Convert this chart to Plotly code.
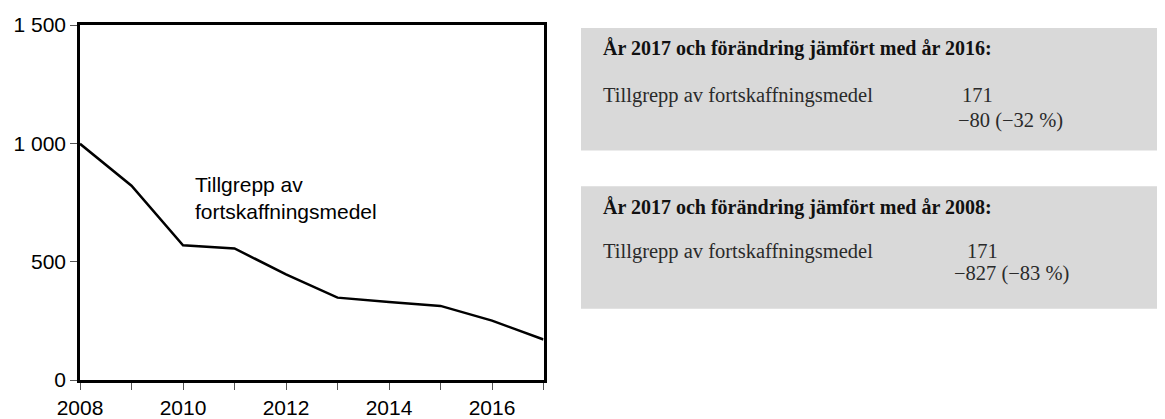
import plotly.graph_objects as go

years = [2008, 2009, 2010, 2011, 2012, 2013, 2014, 2015, 2016, 2017]
tillgrepp = [998, 821, 569, 556, 446, 348, 330, 313, 251, 171]

y_ticks = [0, 500, 1000, 1500]
y_labels = ["0", "500", "1 000", "1 500"]
x_labels = ["2008", "", "2010", "", "2012", "", "2014", "", "2016", ""]

series_name = "Tillgrepp av fortskaffningsmedel"
box_titles = ["År 2017 och förändring jämfört med år 2016:",
              "År 2017 och förändring jämfört med år 2008:"]
box_values = ["171", "171"]
box_changes = ["−80 (−32 %)", "−827 (−83 %)"]

# page body has an 8px margin, so the figure is drawn 8px smaller
OFF = 8
W, H = 1165 - OFF, 419 - OFF
ML, MT, MB = 80 - OFF, 25 - OFF, 35
PW, PH = W - ML, H - MT - MB


def px(x):
    return (x - OFF - ML) / PW


def py(y):
    return (H - MB - (y - OFF)) / PH


fig = go.Figure()
fig.add_trace(go.Scatter(x=years, y=tillgrepp, mode="lines", name=series_name,
                         line=dict(color="black", width=2.5), showlegend=False))

fig.add_annotation(x=2010.2, y=769, text="Tillgrepp av<br>fortskaffningsmedel",
                   showarrow=False, xanchor="left", yanchor="middle", align="left",
                   font=dict(family="Liberation Sans, Arial", size=21, color="black"))

# grey info boxes
boxes = [(28, 152, 49, 96, 122, 960, 956), (188, 312, 210, 254, 276, 965, 952)]
serif = "Liberation Serif, Times New Roman, serif"
for i, (top, bot, ty, vy, cy, vx, cx) in enumerate(boxes):
    fig.add_shape(type="rect", xref="paper", yref="paper",
                  x0=px(581), x1=px(1165), y0=py(bot), y1=py(top),
                  fillcolor="#d9d9d9", line=dict(width=0), layer="below")
    fig.add_annotation(xref="paper", yref="paper", x=px(601), y=py(ty),
                       text="<b>" + box_titles[i] + "</b>", showarrow=False,
                       xanchor="left", yanchor="middle",
                       font=dict(family=serif, size=20, color="#111"))
    fig.add_annotation(xref="paper", yref="paper", x=px(601), y=py(vy),
                       text=series_name, showarrow=False,
                       xanchor="left", yanchor="middle",
                       font=dict(family=serif, size=20.5, color="#2a2a2a"))
    fig.add_annotation(xref="paper", yref="paper", x=px(vx), y=py(vy),
                       text=box_values[i], showarrow=False,
                       xanchor="left", yanchor="middle",
                       font=dict(family=serif, size=20.5, color="#2a2a2a"))
    fig.add_annotation(xref="paper", yref="paper", x=px(cx), y=py(cy),
                       text=box_changes[i], showarrow=False,
                       xanchor="left", yanchor="middle",
                       font=dict(family=serif, size=20.5, color="#2a2a2a"))

fig.update_layout(
    width=W, height=H,
    margin=dict(l=ML, r=0, t=MT, b=MB),
    paper_bgcolor="white", plot_bgcolor="white",
    font=dict(family="Liberation Sans, Arial", size=21, color="black"),
    xaxis=dict(domain=[0, px(543.5)], range=[2008, 2017],
               tickvals=years, ticktext=x_labels,
               ticks="outside", ticklen=7, tickcolor="#555", tickwidth=1,
               showgrid=False, zeroline=False,
               showline=True, linecolor="black", linewidth=2.5, mirror=True),
    yaxis=dict(range=[0, 1500], tickvals=y_ticks, ticktext=y_labels,
               ticks="outside", ticklen=7, tickcolor="#555", tickwidth=1,
               showgrid=False, zeroline=False,
               showline=True, linecolor="black", linewidth=2.5, mirror=True),
)

fig.write_html("out.html")
